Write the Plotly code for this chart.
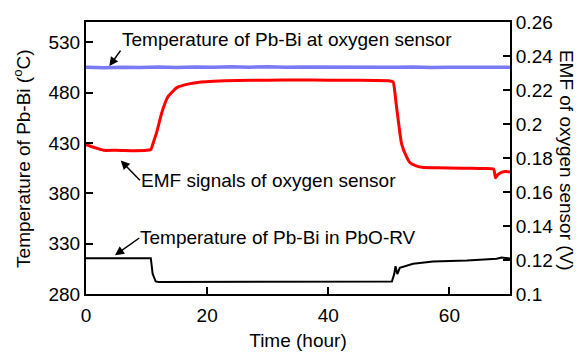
import plotly.graph_objects as go

# Temperature of Pb-Bi at oxygen sensor (left axis, °C)
t_blue = [0, 3, 6, 9, 12, 15, 18, 21, 24, 27, 30, 33, 36, 39, 42, 45, 48, 51, 54, 57, 60, 63, 66, 69, 70]
temp_blue = [505.0, 504.6, 505.2, 504.8, 505.3, 504.9, 505.4, 505.0, 505.5, 505.1, 505.6, 505.0, 505.4, 505.2, 505.6, 505.1, 505.4, 505.0, 505.3, 504.8, 505.2, 504.9, 505.3, 505.0, 505.1]

# EMF signals of oxygen sensor (right axis, V)
t_red = [0, 1, 2, 3, 5, 8, 10, 10.7, 11.2, 11.7, 12.5, 13.5, 15, 17, 19, 21, 25, 30, 35, 40, 45, 50, 50.7,
         51.2, 51.7, 52.1, 52.8, 53.5, 54.5, 55.7, 58, 62, 65, 67.3, 67.6, 68, 68.6, 69.3, 70]
emf_red = [0.1878, 0.1866, 0.1855, 0.1845, 0.1846, 0.1843, 0.1845, 0.1850, 0.1900, 0.1955, 0.2065, 0.2159,
           0.2214, 0.2236, 0.2247, 0.2252, 0.2256, 0.2258, 0.2259, 0.2258, 0.2258, 0.2255, 0.2248,
           0.2120, 0.1980, 0.1883, 0.1817, 0.1772, 0.1754, 0.1744, 0.1743, 0.1740, 0.1738, 0.1735, 0.1683,
           0.1702, 0.1716, 0.1721, 0.1718]

# Temperature of Pb-Bi in PbO-RV (left axis, °C)
t_black = [0, 5, 10.7, 11.0, 11.5, 12, 20, 30, 40, 50.5, 50.9, 51.1, 51.4, 51.8, 54, 57.3, 62.9, 67.8, 68.6, 70]
temp_black = [315.5, 315.5, 315.5, 300.0, 292.5, 292.0, 292.0, 292.3, 292.0, 292.3, 300.0, 307.6, 299.8,
              306.0, 310.0, 312.3, 313.2, 315.0, 316.3, 315.2]

x_ticks = [0, 20, 40, 60]
left_ticks = [280, 330, 380, 430, 480, 530]
right_ticks = [0.1, 0.12, 0.14, 0.16, 0.18, 0.2, 0.22, 0.24, 0.26]
right_tick_labels = ["0.1", "0.12", "0.14", "0.16", "0.18", "0.2", "0.22", "0.24", "0.26"]

FONT = "Liberation Sans, Arial, Helvetica, sans-serif"
FS = 19

fig = go.Figure()
fig.add_trace(go.Scatter(x=t_blue, y=temp_blue, mode="lines",
                         line=dict(color="#7A7AF4", width=3.5), showlegend=False))
fig.add_trace(go.Scatter(x=t_black, y=temp_black, mode="lines",
                         line=dict(color="black", width=2), showlegend=False))
fig.add_trace(go.Scatter(x=t_red, y=emf_red, mode="lines", yaxis="y2",
                         line=dict(color="#FF0000", width=3, shape="spline", smoothing=0.4),
                         showlegend=False))

axis_common = dict(showgrid=False, zeroline=False, showline=True, linecolor="black", linewidth=2,
                   ticks="inside", ticklen=7, tickwidth=1.5, tickcolor="black",
                   tickfont=dict(family=FONT, size=FS, color="black"))

fig.update_layout(
    width=586, height=360,
    margin=dict(l=86, r=76, t=13, b=57),
    plot_bgcolor="white", paper_bgcolor="white",
    font=dict(family=FONT, size=FS, color="black"),
    xaxis=dict(range=[0, 70], tickvals=x_ticks, mirror=True, ticklabelstandoff=3,
               title=dict(text="Time (hour)", font=dict(family=FONT, size=FS), standoff=9),
               **axis_common),
    yaxis=dict(range=[280, 550], tickvals=left_ticks, **axis_common),
    yaxis2=dict(range=[0.1, 0.26], tickvals=right_ticks, ticktext=right_tick_labels,
                overlaying="y", side="right", **axis_common),
)

# axis titles (right one reads top to bottom)
fig.add_annotation(text="Temperature of Pb-Bi (<sup>o</sup>C)", xref="paper", yref="paper",
                   x=(22 - 86) / 424, y=(303 - 159) / 290, textangle=-90, showarrow=False,
                   xanchor="center", yanchor="middle", font=dict(family=FONT, size=FS, color="black"))
fig.add_annotation(text="EMF of oxygen sensor (V)", xref="paper", yref="paper",
                   x=(566 - 86) / 424, y=(303 - 160) / 290, textangle=90, showarrow=False,
                   xanchor="center", yanchor="middle", font=dict(family=FONT, size=FS, color="black"))

# labelled arrows: text anchored at the arrow tail, arrow points to the curve
labels = [
    dict(text="Temperature of Pb-Bi at oxygen sensor", tail=(5.7, 521.6), head=(3.85, 506.2),
         xanchor="left", yanchor="bottom"),
    dict(text="EMF signals of oxygen sensor", tail=(8.9, 393.0), head=(5.73, 412.5),
         xanchor="left", yanchor="middle"),
    dict(text="Temperature of Pb-Bi in PbO-RV", tail=(8.8, 335.6), head=(4.79, 318.5),
         xanchor="left", yanchor="middle"),
]
for a in labels:
    fig.add_annotation(x=a["head"][0], y=a["head"][1], ax=a["tail"][0], ay=a["tail"][1],
                       xref="x", yref="y", axref="x", ayref="y", text=a["text"],
                       xanchor=a["xanchor"], yanchor=a["yanchor"], showarrow=True,
                       arrowhead=2, arrowsize=1.2, arrowwidth=1.5, arrowcolor="black", standoff=0,
                       borderpad=0, font=dict(family=FONT, size=FS, color="black"))

fig.write_html("out.html")
